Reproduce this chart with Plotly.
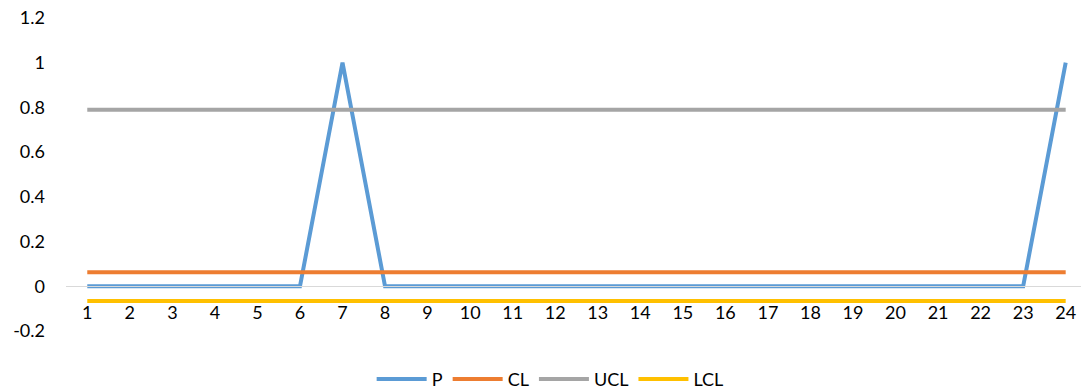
import plotly.graph_objects as go

samples = list(range(1, 25))
p_values = [0, 0, 0, 0, 0, 0, 1, 0, 0, 0, 0, 0, 0, 0, 0, 0, 0, 0, 0, 0, 0, 0, 0, 1]
cl_value = 0.0625
ucl_value = 0.79
lcl_value = -0.066

series = [
    ("P", p_values, "#5B9BD5"),
    ("CL", [cl_value] * len(samples), "#ED7D31"),
    ("UCL", [ucl_value] * len(samples), "#A5A5A5"),
    ("LCL", [lcl_value] * len(samples), "#FFC000"),
]

fig = go.Figure()
for name, vals, color in series:
    fig.add_trace(go.Scatter(x=samples, y=vals, name=name, mode="lines",
                             line=dict(color=color, width=4)))

font = dict(family="Lato, Calibri, Arial", size=18, color="#000000")

fig.update_layout(
    width=1081, height=391,
    margin=dict(l=66, r=0, t=18, b=60, autoexpand=False),
    paper_bgcolor="white", plot_bgcolor="white",
    font=font,
    showlegend=True,
    legend=dict(orientation="h", x=0.477, xanchor="center",
                yref="container", y=0.03, yanchor="middle",
                font=font, itemwidth=50, tracegroupgap=0),
    xaxis=dict(range=[0.5, 24.36], tickmode="array", tickvals=samples,
               ticktext=[str(s) for s in samples],
               showgrid=False, zeroline=False, showline=True, linecolor="#D9D9D9",
               linewidth=1, ticks="", anchor="free", position=0.2 / 1.4,
               ticklabelstandoff=10),
    yaxis=dict(range=[-0.2, 1.2], tickmode="array",
               tickvals=[-0.2, 0, 0.2, 0.4, 0.6, 0.8, 1, 1.2],
               ticktext=["-0.2", "0", "0.2", "0.4", "0.6", "0.8", "1", "1.2"],
               showgrid=False, zeroline=False, showline=False, ticks="",
               ticklabelstandoff=20),
)

fig.write_html(
    "out.html",
    config={"displayModeBar": False},
    post_script="document.body.style.margin='0';document.body.style.overflow='hidden';",
)
